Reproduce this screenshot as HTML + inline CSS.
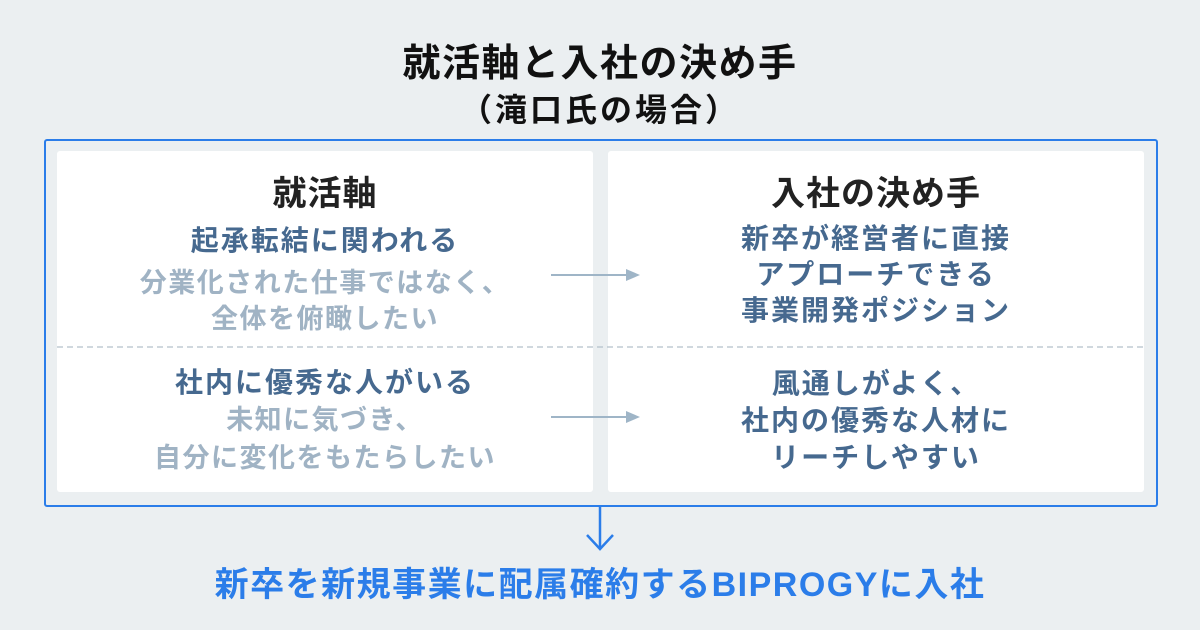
<!DOCTYPE html>
<html><head><meta charset="utf-8"><style>
body{margin:0;width:1200px;height:630px;background:#ebeff1;position:relative;overflow:hidden;font-family:"Liberation Sans","Noto Sans CJK JP",sans-serif;font-weight:bold}
.t{position:absolute;left:0;width:1200px;text-align:center;white-space:nowrap}
.c{position:absolute;text-align:center;white-space:nowrap}
.box{position:absolute;left:44px;top:139px;width:1110px;height:364px;border:2px solid #2b7de9;border-radius:3px}
.p{position:absolute;top:151px;height:341px;background:#fff;border-radius:3px}
.h{font-size:34px;color:#222;letter-spacing:1px}
.b{font-size:28px;color:#46698f;letter-spacing:2px;line-height:37px}
.g{font-size:27px;color:#a0b3c4;letter-spacing:1.5px;line-height:36px}
</style></head><body>
<div class="t" style="top:32px;font-size:38px;color:#111;letter-spacing:1.5px">就活軸と入社の決め手</div>
<div class="t" style="top:85px;font-size:32px;color:#111;letter-spacing:3px">（滝口氏の場合）</div>
<div class="box"></div>
<div class="p" style="left:57px;width:536px"></div>
<div class="p" style="left:608px;width:536px"></div>
<svg style="position:absolute;left:0;top:0" width="1200" height="630">
<line x1="57" y1="347" x2="1144" y2="347" stroke="#b3c0cb" stroke-width="1.2" stroke-dasharray="6,4"/>
<line x1="551" y1="275" x2="630" y2="275" stroke="#9fb5c7" stroke-width="2"/>
<polygon points="640,275 626,269 626,281" fill="#9fb5c7"/>
<line x1="551" y1="417" x2="630" y2="417" stroke="#9fb5c7" stroke-width="2"/>
<polygon points="640,417 626,411 626,423" fill="#9fb5c7"/>
<line x1="600" y1="505" x2="600" y2="549" stroke="#2b7de9" stroke-width="2.5"/>
<polyline points="587,535 600,549 613,535" fill="none" stroke="#2b7de9" stroke-width="2.5"/>
</svg>
<div class="c h" style="left:57px;width:536px;top:166px">就活軸</div>
<div class="c h" style="left:608px;width:536px;top:166px">入社の決め手</div>
<div class="c" style="left:57px;width:536px;top:222px">
<div class="b">起承転結に関われる</div>
<div class="g" style="margin-top:6px">分業化された仕事ではなく、<br>全体を俯瞰したい</div></div>
<div class="c b" style="left:608px;width:536px;top:221px;line-height:36px">新卒が経営者に直接<br>アプローチできる<br>事業開発ポジション</div>
<div class="c" style="left:57px;width:536px;top:364px">
<div class="b">社内に優秀な人がいる</div>
<div class="g" style="line-height:38px">未知に気づき、<br>自分に変化をもたらしたい</div></div>
<div class="c b" style="left:608px;width:536px;top:365px;line-height:37px">風通しがよく、<br>社内の優秀な人材に<br>リーチしやすい</div>
<div class="t" style="top:557px;font-size:34px;color:#2b7de9;letter-spacing:1.5px">新卒を新規事業に配属確約するBIPROGYに入社</div>
</body></html>
